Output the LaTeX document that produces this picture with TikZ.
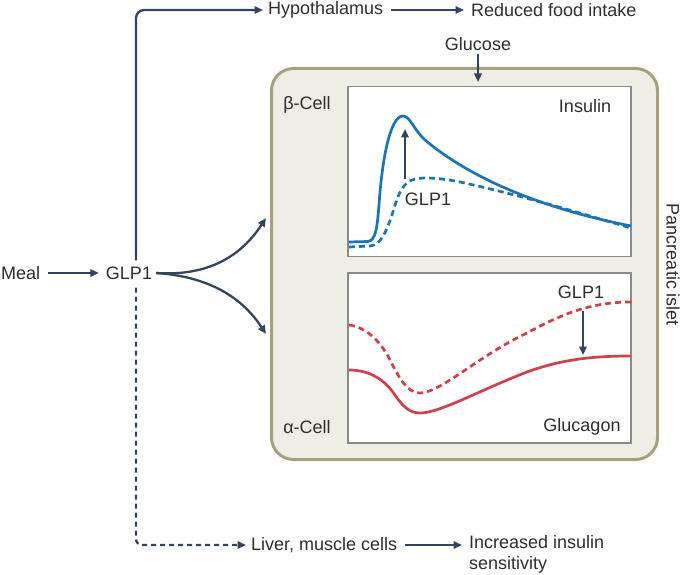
\documentclass[tikz,border=0pt]{standalone}
\usepackage{fontspec}
\setmainfont{Liberation Sans}
\usetikzlibrary{arrows.meta}
\definecolor{navy}{HTML}{34435E}
\definecolor{txt}{HTML}{2E2E2E}
\definecolor{isletfill}{HTML}{EFEEE6}
\definecolor{isletdraw}{HTML}{A6A27E}
\definecolor{plotdraw}{HTML}{8A8A8A}
\definecolor{insblue}{HTML}{1B75B5}
\definecolor{glured}{HTML}{D0414A}
\begin{document}
\begin{tikzpicture}[x=1pt,y=-1pt,
  font=\fontsize{18}{21.5}\selectfont,
  lbl/.style={text=txt, inner sep=2pt},
  arr/.style={draw=navy, line width=2.3pt, -{Triangle[length=8.5pt,width=7.5pt]}},
  gap/.style={shorten <=6pt, shorten >=5pt},
  dsh/.style={dash pattern=on 6pt off 4pt},
  islet/.style={draw=isletdraw, line width=3pt, fill=isletfill, rounded corners=22pt, minimum width=386pt, minimum height=391pt},
  plotbox/.style={draw=plotdraw, line width=1.2pt, fill=white, minimum width=283pt, minimum height=170pt},
  curve/.style={line width=2.7pt}]
\useasboundingbox (0,0) rectangle (685,575);

% pancreatic islet
\node[islet] (islet) at (464.5,264) {};
\node[plotbox] (ins) at (489.5,171.5) {};
\node[plotbox] (glu) at (489.5,358) {};

% texts
\node[lbl, anchor=west] (meal) at (-1,273) {Meal};
\node[lbl] (glp) at (129,273) {GLP1};
\node[lbl, anchor=west] (hypo) at (266,10) {Hypothalamus};
\node[lbl, anchor=west] (food) at (469,10) {Reduced food intake};
\node[lbl] (gluc) at (478,44) {Glucose};
\node[lbl] (beta) at (307,105) {β-Cell};
\node[lbl] (alpha) at (307,427) {α-Cell};
\node[lbl] (insl) at (585,106) {Insulin};
\node[lbl] (glul) at (582,427) {Glucagon};
\node[lbl] (glpa) at (428,199) {GLP1};
\node[lbl] (glpb) at (581,292) {GLP1};
\node[lbl, rotate=-90] (pi) at (673,265) {Pancreatic islet};
\node[lbl, anchor=west] (liver) at (249,545) {Liver, muscle cells};
\node[lbl, anchor=north west, align=left] (incr) at (467,533) {Increased insulin\\sensitivity};

% coordinates
\coordinate (gt) at (478,82);
\coordinate (up) at (266,218);
\coordinate (dn) at (266,334);
\coordinate (ia0) at (405,179);
\coordinate (ia1) at (405,129);
\coordinate (ga0) at (583,311);
\coordinate (ga1) at (583,355);

% connectors
\draw[arr, gap] (meal) -- (glp);
\draw[arr, rounded corners=8pt, shorten <=4pt, shorten >=3pt] ([xshift=7pt]glp.north) |- (hypo.west);
\draw[arr, gap] (hypo) -- (food);
\draw[arr, shorten <=1pt] (gluc) -- (gt);
\draw[arr] ([xshift=2pt]glp.east) .. controls (215,277) and (245,250) .. (up);
\draw[arr] ([xshift=2pt]glp.east) .. controls (215,277) and (245,302) .. (dn);
\draw[arr, dash pattern=on 5pt off 4pt, rounded corners=6pt, shorten <=6pt, shorten >=3pt] ([xshift=7pt]glp.south) |- (liver.west);
\draw[arr, gap] (liver.east) -- (liver.east -| incr.west);

% insulin curves
\draw[insblue, curve] (349,242) -- (368,241.5) .. controls (376,240) and (377,228) .. (379,205)
  .. controls (382,160) and (390,116) .. (403,116)
  .. controls (410,116) and (414,130) .. (425,140)
  .. controls (475,182) and (550,210) .. (631,226);
\draw[insblue, curve, dsh] (349,247) -- (370,246) .. controls (380,245) and (385,235) .. (392,215)
  .. controls (398,195) and (402,182) .. (415,179)
  .. controls (425,177) and (440,178) .. (460,182)
  .. controls (520,195) and (580,213) .. (631,228);
% glucagon curves
\draw[glured, curve] (349,370) .. controls (370,370) and (385,380) .. (395,395)
  .. controls (403,407) and (410,413) .. (420,413)
  .. controls (440,413) and (480,390) .. (527,372)
  .. controls (560,360) and (590,356) .. (631,356);
\draw[glured, curve, dsh] (349,325) .. controls (365,327) and (380,340) .. (390,360)
  .. controls (400,380) and (408,393) .. (420,393)
  .. controls (440,393) and (480,355) .. (527,333)
  .. controls (560,315) and (590,302) .. (631,302);

\draw[arr] (ia0) -- (ia1);
\draw[arr] (ga0) -- (ga1);
\end{tikzpicture}
\end{document}
